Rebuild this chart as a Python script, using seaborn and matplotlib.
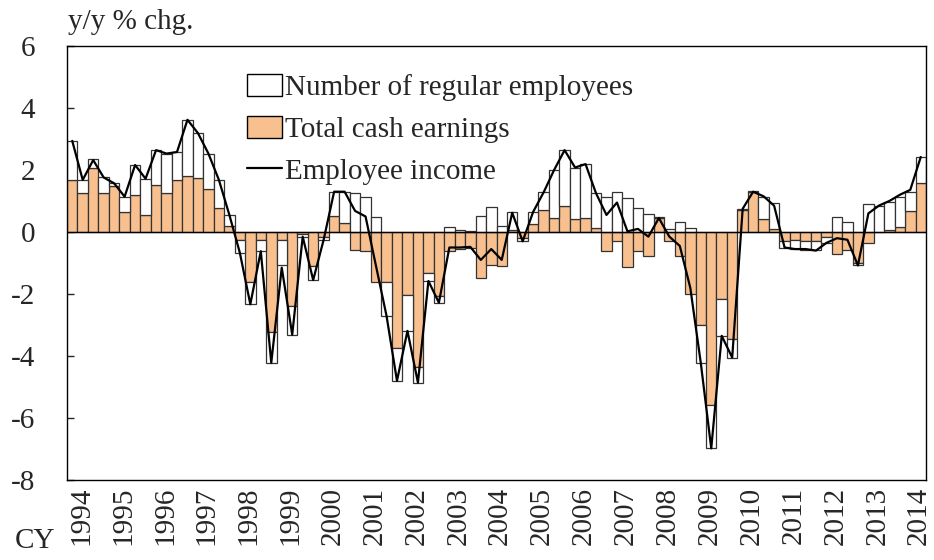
import numpy as np
import pandas as pd
import matplotlib
matplotlib.use("Agg")
import matplotlib.pyplot as plt
import seaborn as sns
from matplotlib.patches import Patch
from matplotlib.lines import Line2D

# ---- data (quarterly, 1994Q1 - 2014Q2), y/y % chg. ----
years = ["1994", "1995", "1996", "1997", "1998", "1999", "2000", "2001", "2002",
         "2003", "2004", "2005", "2006", "2007", "2008", "2009", "2010", "2011",
         "2012", "2013", "2014"]

cash_earnings = [
    1.68, 1.27, 2.05, 1.27,
    1.50, 0.63, 1.20, 0.55,
    1.53, 1.27, 1.68, 1.80,
    1.73, 1.38, 0.77, 0.20,
    -0.25, -1.60, -0.25, -3.24,
    -0.25, -2.38, -0.05, -1.10,
    -0.16, 0.52, 0.29, -0.57,
    -0.60, -1.60, -1.60, -3.75,
    -2.04, -4.36, -1.31, -2.06,
    -0.62, -0.55, -0.50, -1.47,
    -1.08, -1.10, 0.05, -0.20,
    0.25, 0.71, 0.45, 0.84,
    0.42, 0.45, 0.13, -0.60,
    -0.30, -1.12, -0.62, -0.78,
    0.45, -0.30, -0.78, -2.00,
    -2.99, -5.57, -2.17, -3.45,
    0.72, 1.28, 0.43, 0.10,
    -0.30, -0.25, -0.30, -0.30,
    -0.15, -0.70, -0.57, -1.00,
    -0.35, 0.00, 0.08, 0.16,
    0.69, 1.57,
]

regular_employees = [
    1.26, 0.41, 0.29, 0.49,
    0.07, 0.49, 0.96, 1.15,
    1.11, 1.26, 0.90, 1.82,
    1.46, 1.15, 0.91, 0.35,
    -0.42, -0.73, -0.37, -0.98,
    -0.83, -0.93, -0.10, -0.45,
    -0.09, 0.78, 1.01, 1.25,
    1.12, 0.50, -1.10, -1.05,
    -1.15, -0.50, -0.27, -0.22,
    0.15, 0.08, 0.02, 0.52,
    0.80, 0.18, 0.60, -0.10,
    0.40, 0.57, 1.55, 1.80,
    1.66, 1.74, 1.12, 1.14,
    1.30, 1.09, 0.77, 0.59,
    0.03, 0.10, 0.32, 0.13,
    -1.23, -1.41, -1.18, -0.60,
    0.03, 0.04, 0.71, 0.83,
    -0.20, -0.30, -0.27, -0.28,
    -0.20, 0.50, 0.31, -0.08,
    0.91, 0.85, 0.90, 0.98,
    0.61, 0.85,
]

employee_income = [
    2.94, 1.68, 2.32, 1.76,
    1.57, 1.14, 2.16, 1.72,
    2.64, 2.53, 2.58, 3.62,
    3.19, 2.53, 1.68, 0.55,
    -0.67, -2.33, -0.62, -4.22,
    -1.15, -3.31, -0.15, -1.55,
    -0.25, 1.30, 1.30, 0.68,
    0.50, -1.10, -2.70, -4.80,
    -3.19, -4.86, -1.58, -2.28,
    -0.50, -0.50, -0.48, -0.90,
    -0.55, -0.90, 0.62, -0.30,
    0.65, 1.28, 2.00, 2.64,
    2.08, 2.19, 1.25, 0.55,
    0.95, 0.02, 0.10, -0.15,
    0.45, -0.15, -0.45, -1.80,
    -4.22, -6.98, -3.35, -4.05,
    0.75, 1.30, 1.15, 0.85,
    -0.50, -0.55, -0.55, -0.60,
    -0.35, -0.20, -0.25, -1.08,
    0.60, 0.85, 1.00, 1.20,
    1.36, 2.42,
]

y_ticks = [-8, -6, -4, -2, 0, 2, 4, 6]
y_tick_labels = ["-8", "-6", "-4", "-2", "0", "2", "4", "6"]

# ---- style ----
sns.set_style("white")
plt.rcParams["font.family"] = ["Liberation Serif", "DejaVu Serif"]
FS = 21
ORANGE = "#F9C08F"
EDGE = "#333333"

W, H = 934, 560
fig = plt.figure(figsize=(W / 100, H / 100), dpi=100)
ax = fig.add_axes([67 / W, 1 - 480 / H, (926 - 67) / W, (480 - 46) / H])

x = np.arange(len(cash_earnings))
c = np.array(cash_earnings)
e = np.array(regular_employees)
bottom_e = np.where(np.sign(c) == np.sign(e), c, 0.0)

ax.bar(x, c, width=1.0, color=ORANGE, edgecolor=EDGE, linewidth=0.9, zorder=2)
ax.bar(x, e, bottom=bottom_e, width=1.0, color="white", edgecolor=EDGE,
       linewidth=0.9, zorder=2)
ax.axhline(0, color="black", lw=1.0, zorder=3)

df = pd.DataFrame({"q": x, "income": employee_income})
sns.lineplot(data=df, x="q", y="income", color="black", lw=1.6, ax=ax,
             zorder=4, legend=False)

ax.set_xlim(-0.5, len(x) - 0.5)
ax.set_ylim(-8, 6)
ax.set_xlabel("")
ax.set_ylabel("")

ax.set_yticks(y_ticks)
ax.set_yticklabels(y_tick_labels, fontsize=FS)
ax.tick_params(axis="y", direction="in", length=5, width=1, pad=23,
               left=True, right=False)
ax.set_xticks([4 * k + 0.85 for k in range(len(years))])
ax.set_xticklabels(years, rotation=90, fontsize=FS)
ax.tick_params(axis="x", length=0, pad=5)

for s in ax.spines.values():
    s.set_color("black")
    s.set_linewidth(1.0)
    s.set_visible(True)

handles = [
    Patch(facecolor="white", edgecolor="black", lw=1.0),
    Patch(facecolor=ORANGE, edgecolor="black", lw=1.0),
    Line2D([], [], color="black", lw=1.6),
]
labels = ["Number of regular employees", "Total cash earnings", "Employee income"]
ax.legend(handles, labels, loc="upper left",
          bbox_to_anchor=(247 / W, 1 - 74 / H), bbox_transform=fig.transFigure,
          frameon=False, borderpad=0, borderaxespad=0, fontsize=FS,
          handlelength=1.2, handleheight=0.8, handletextpad=0.1,
          labelspacing=0.5)

fig.text(68 / W, 1 - 22 / H, "y/y % chg.", fontsize=FS, ha="left", va="center")
fig.text(15 / W, 1 - 541 / H, "CY", fontsize=FS, ha="left", va="center")

fig.savefig("out.png", dpi=100)
